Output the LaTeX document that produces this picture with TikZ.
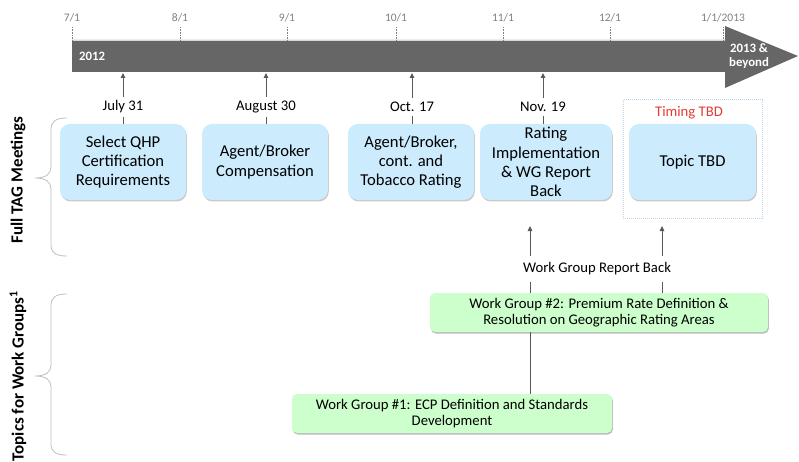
\documentclass[tikz,border=0pt]{standalone}
\usepackage{fontspec}
\setmainfont{Carlito}
\usetikzlibrary{arrows.meta,shadows}
\definecolor{barcol}{HTML}{666666}
\definecolor{arrcol}{HTML}{595959}
\definecolor{boxblue}{HTML}{CCEBFD}
\definecolor{boxgreen}{HTML}{CCFFCC}
\definecolor{bracecol}{HTML}{BFBFBF}
\definecolor{tickcol}{HTML}{808080}
\definecolor{dotblue}{HTML}{BDD7EE}
\definecolor{tbdred}{HTML}{E03C31}
\tikzset{
  arr/.style={draw=arrcol, line width=1pt, -{Triangle[length=5pt,width=4.5pt]}},
  plainln/.style={draw=arrcol, line width=1pt},
  tickln/.style={draw=tickcol, densely dotted, line width=0.6pt},
  ticklab/.style={text=tickcol, font=\fontsize{11.5}{13}\selectfont, inner sep=0pt},
  datelab/.style={font=\fontsize{14.7}{16}\selectfont, inner sep=0pt},
  bluebox/.style={fill=boxblue, rounded corners=10pt, minimum height=76pt, align=center,
     font=\fontsize{16.6}{19.2}\selectfont, inner sep=1pt,
     drop shadow={shadow xshift=0.8pt, shadow yshift=-1.5pt, fill=black!35, opacity=0.6}},
  greenbox/.style={fill=boxgreen, rounded corners=5pt, minimum height=39pt, align=center,
     font=\fontsize{14.7}{16.5}\selectfont, inner sep=1pt,
     drop shadow={shadow xshift=0.8pt, shadow yshift=-1.5pt, fill=black!45, opacity=0.6}},
  sidelab/.style={rotate=90, font=\bfseries\fontsize{17}{19}\selectfont, inner sep=0pt},
  bracest/.style={draw=bracecol, line width=0.8pt},
  whitelab/.style={text=white, font=\bfseries\fontsize{12.8}{14.5}\selectfont, inner sep=0pt, align=center}
}
\begin{document}
\begin{tikzpicture}[x=1pt,y=-1pt]
\useasboundingbox (0,0) rectangle (799,462);
% timeline bar
\fill[barcol] (72,40) -- (725,40) -- (725,26) -- (798,56) -- (725,88) -- (725,72) -- (72,72) -- cycle;
\draw[white!75!barcol, line width=0.8pt] (72,40.4) -- (725,40.4);
\coordinate (barbot) at (0,73);
\node[whitelab, anchor=west] (y2012) at (79,56) {2012};
\node[whitelab] (y2013) at (749,56) {2013 \&\\beyond};
% tick labels
\foreach \x/\t/\n in {72/7\slash 1/t1, 180/8\slash 1/t2, 287/9\slash 1/t3, 396/10\slash 1/t4, 503/11\slash 1/t5, 610/12\slash 1/t6, 723/1\slash 1\slash 2013/t7}{
  \node[ticklab] (\n) at (\x,18) {\t};
  \coordinate (\n b) at (\x,40);
  \draw[tickln] (\x,27) -- (\n b);
}
% date labels
\node[datelab] (d1) at (123,107) {July 31};
\node[datelab] (d2) at (266,107) {August 30};
\node[datelab] (d3) at (412,107) {Oct. 17};
\node[datelab] (d4) at (543,107) {Nov. 19};
\foreach \d in {d1,d2,d3,d4}{
  \draw[arr] ([yshift=4pt]\d.north) -- (\d.north |- barbot);
}
% dotted frame
\draw[dotblue, densely dotted, line width=1pt] (623,100) rectangle (762,218);
\node[text=tbdred, font=\fontsize{14.7}{16}\selectfont, inner sep=0pt] (tbd) at (689,113) {Timing TBD};
% blue boxes
\node[bluebox, minimum width=126pt] (b1) at (123,162) {Select QHP\\Certification\\Requirements};
\node[bluebox, minimum width=126pt] (b2) at (265,162) {Agent/Broker\\Compensation};
\node[bluebox, minimum width=126pt] (b3) at (411,162) {Agent/Broker,\\cont. and\\Tobacco Rating};
\node[bluebox, minimum width=132pt] (b4) at (546,162) {Rating\\Implementation\\\& WG Report\\Back};
\node[bluebox, minimum width=127pt] (b5) at (692.5,162) {Topic TBD};
\draw[plainln] ([yshift=-4pt]d1.south) -- (d1.south |- b1.north);
\draw[plainln] ([yshift=-4pt]d2.south) -- (d2.south |- b2.north);
\draw[plainln] ([yshift=-4pt]d3.south) -- (d3.south |- b3.north);
\draw[plainln] ([yshift=-4pt]d4.south) -- (d4.south |- b4.north);
% work group report back
\node[datelab] (wgrb) at (597,269) {Work Group Report Back};
\coordinate (u1) at (530,256);
\coordinate (u2) at (662,256);
\coordinate (h1) at (530,226);
\coordinate (h2) at (662,226);
\draw[arr] (u1) -- (h1);
\draw[arr] (u2) -- (h2);
% green boxes
\node[greenbox, minimum width=338pt] (wg2) at (599,312.5) {Work Group \#2: Premium Rate Definition \&\\Resolution on Geographic Rating Areas};
\node[greenbox, minimum width=320pt] (wg1) at (452,413.5) {Work Group \#1: ECP Definition and Standards\\Development};
\coordinate (l1) at (530,282);
\coordinate (l2) at (662,282);
\draw[plainln] (l1) -- (l1 |- wg2.north);
\draw[plainln] (l2) -- (l2 |- wg2.north);
\draw[plainln] (l1 |- wg2.south) -- (l1 |- wg1.north);
% side labels
\node[sidelab] (s1) at (18,180) {Full TAG Meetings};
\node[sidelab] (s2) at (18,376) {Topics for Work Groups\textsuperscript{1}};
% braces
\draw[bracest] (67,118) .. controls (56,118) and (51,121) .. (51,130) -- (51,167) .. controls (51,174) and (46,178) .. (35,178) .. controls (46,178) and (51,182) .. (51,189) -- (51,245) .. controls (51,253) and (56,256) .. (67,256);
\draw[bracest] (67,294) .. controls (56,294) and (51,297) .. (51,306) -- (51,365) .. controls (51,372) and (46,376) .. (35,376) .. controls (46,376) and (51,380) .. (51,387) -- (51,444) .. controls (51,452) and (56,455) .. (67,455);
\end{tikzpicture}
\end{document}
